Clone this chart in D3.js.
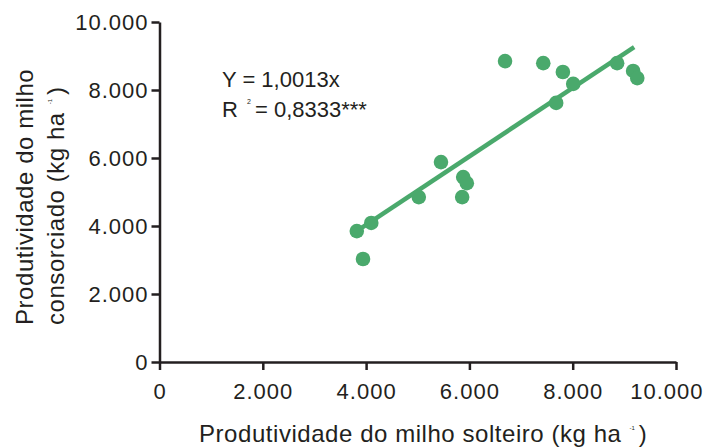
<!DOCTYPE html>
<html>
<head>
<meta charset="utf-8">
<script src="https://cdn.jsdelivr.net/npm/d3@7"></script>
<style>
  body { margin: 0; background: #fff; }
  text { font-family: "Liberation Sans", Arial, sans-serif; fill: #231f20; }
</style>
</head>
<body>
<div id="grafico"></div>
<script>
// produtividade (kg/ha)
var solteiro    = [3820, 3940, 4100, 5020, 5450, 5880, 5950, 5860, 6690, 7430, 7810, 8010, 7680, 8860, 9170, 9250];
var consorciado = [3850, 3030, 4090, 4850, 5880, 5440, 5260, 4850, 8850, 8790, 8530, 8180, 7620, 8790, 8560, 8350];

// reta ajustada (extremos)
var retaX = [3730, 9190];
var retaY = [3760, 9260];

var ticks = [0, 2000, 4000, 6000, 8000, 10000];
var tickLabels = ["0", "2.000", "4.000", "6.000", "8.000", "10.000"];

var equacao = "Y = 1,0013x";
var r2 = "= 0,8333***";

var W = 708, H = 448;
var margin = {top: 22, right: 32, bottom: 86, left: 159.5};
var width = W - margin.left - margin.right;
var height = H - margin.top - margin.bottom;
var verde = "#4aa96c";
var escuro = "#231f20";

var svg = d3.select("#grafico").append("svg")
  .attr("width", W)
  .attr("height", H);

svg.append("rect").attr("width", W).attr("height", H).attr("fill", "white");

var g = svg.append("g")
  .attr("transform", "translate(" + margin.left + "," + margin.top + ")");

var xScale = d3.scaleLinear().domain([0, 10000]).range([0, width]);
var yScale = d3.scaleLinear().domain([0, 10000]).range([height, 0]);

// eixos
var xAxis = d3.axisBottom(xScale)
  .tickValues(ticks)
  .tickFormat(function(d, i) { return tickLabels[i]; })
  .tickSize(8).tickSizeOuter(0).tickPadding(13);
var yAxis = d3.axisLeft(yScale)
  .tickValues(ticks)
  .tickFormat(function(d, i) { return tickLabels[i]; })
  .tickSize(8).tickSizeOuter(0).tickPadding(3);

var xAxisG = g.append("g").attr("transform", "translate(0," + height + ")").call(xAxis);
var yAxisG = g.append("g").call(yAxis);

[xAxisG, yAxisG].forEach(function(a) {
  a.selectAll("path, line").attr("stroke", escuro).attr("stroke-width", 2.5);
  a.selectAll("text").attr("font-size", 22).attr("fill", escuro)
    .attr("letter-spacing", 1)
    .style("font-family", "Liberation Sans, Arial, sans-serif");
});
// o ultimo rotulo fica dentro da figura
xAxisG.selectAll(".tick text").filter(function(d) { return d === 10000; })
  .attr("text-anchor", "end").attr("dx", 27);

// reta de regressao
g.append("line")
  .attr("x1", xScale(retaX[0])).attr("y1", yScale(retaY[0]))
  .attr("x2", xScale(retaX[1])).attr("y2", yScale(retaY[1]))
  .attr("stroke", verde).attr("stroke-width", 4.5);

// pontos
g.selectAll(".ponto").data(solteiro)
  .enter().append("circle")
    .attr("class", "ponto")
    .attr("cx", function(d) { return xScale(d); })
    .attr("cy", function(d, i) { return yScale(consorciado[i]); })
    .attr("r", 7.3)
    .attr("fill", verde);

// equacao
svg.append("text").attr("x", 222).attr("y", 87).attr("font-size", 22).text(equacao);
svg.append("text").attr("x", 222).attr("y", 117).attr("font-size", 22).text("R");
svg.append("text").attr("x", 247).attr("y", 104).attr("font-size", 7).text("2");
svg.append("text").attr("x", 255).attr("y", 117).attr("font-size", 22).text(r2);

// titulo eixo x
var xt = svg.append("text")
  .attr("x", 199).attr("y", 442)
  .attr("font-size", 24).attr("letter-spacing", 0.55);
xt.append("tspan").text("Produtividade do milho solteiro (kg ha");
xt.append("tspan").attr("font-size", 6).attr("dy", -12).attr("dx", 8).attr("letter-spacing", 0).text("-1");
xt.append("tspan").attr("dy", 12).attr("dx", 4).text(")");

// titulo eixo y
var yt = svg.append("g").attr("transform", "translate(33,325) rotate(-90)");
yt.append("text").attr("font-size", 24).attr("letter-spacing", 0.55)
  .text("Produtividade do milho");
var yt2 = yt.append("text").attr("y", 31).attr("font-size", 24).attr("letter-spacing", 0.55);
yt2.append("tspan").text("consorciado (kg ha");
yt2.append("tspan").attr("font-size", 6).attr("dy", -12).attr("dx", 8).attr("letter-spacing", 0).text("-1");
yt2.append("tspan").attr("dy", 12).attr("dx", 4).text(")");
</script>
</body>
</html>
